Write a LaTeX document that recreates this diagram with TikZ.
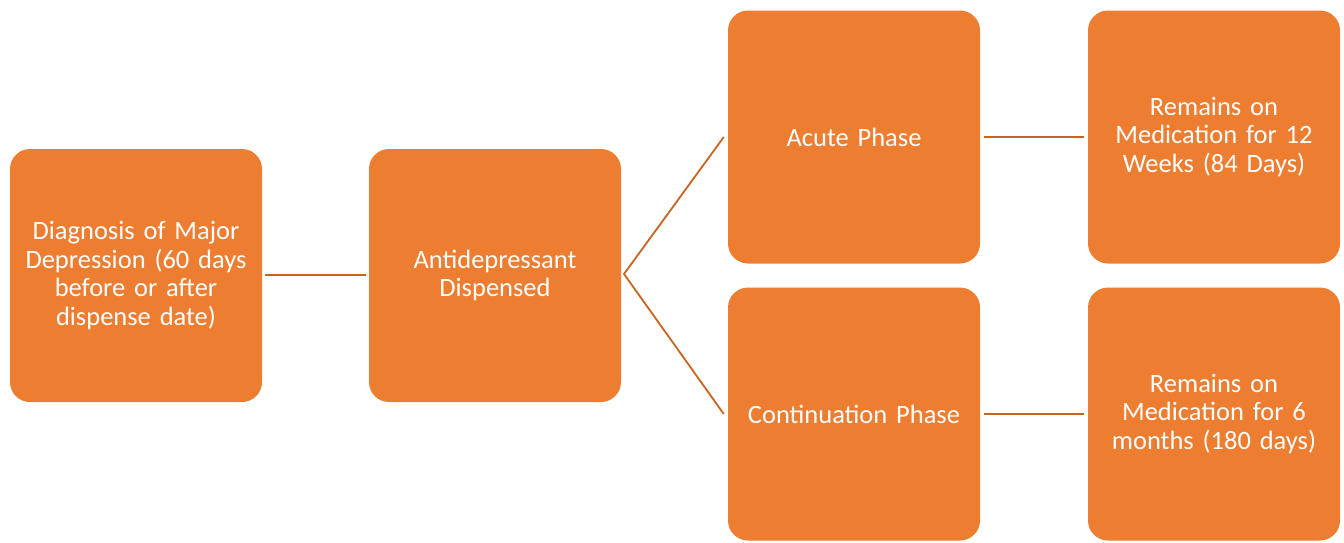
\documentclass[tikz,border=0pt]{standalone}
\usepackage{fontspec}
\setmainfont{Carlito}
\definecolor{boxorange}{HTML}{ED7D31}
\definecolor{lineorange}{HTML}{C8641F}
\begin{document}
\begin{tikzpicture}[x=1pt,y=-1pt,
  card/.style={fill=boxorange, draw=none, rounded corners=20pt, minimum width=252pt, minimum height=253pt, inner sep=0pt, text=white, align=center, font=\fontsize{26.5}{28.7}\selectfont, text width=245pt},
  link/.style={draw=lineorange, line width=1.8pt}]
\useasboundingbox (0,0) rectangle (1344,542);
\node[card] (diag) at (136,275.5) {Diagnosis of Major\\Depression (60 days\\before or after\\dispense date)};
\node[card] (anti) at (495,275.5) {Antidepressant\\Dispensed};
\node[card] (acute) at (854,137) {Acute Phase};
\node[card] (cont) at (854,414) {Continuation Phase};
\node[card] (rem1) at (1214,137) {Remains on\\Medication for 12\\Weeks (84 Days)};
\node[card] (rem2) at (1214,414) {Remains on\\Medication for 6\\months (180 days)};
\coordinate (d1) at (265,275);
\coordinate (d2) at (366,275);
\draw[link] (d1) -- (d2);
\coordinate (fork) at (624,274);
\draw[link] ([xshift=-4pt]acute.west) -- (fork) -- ([xshift=-4pt]cont.west);
\draw[link] ([xshift=4pt]acute.east) -- ([xshift=-4pt]rem1.west);
\draw[link] ([xshift=4pt]cont.east) -- ([xshift=-4pt]rem2.west);
\end{tikzpicture}
\end{document}
